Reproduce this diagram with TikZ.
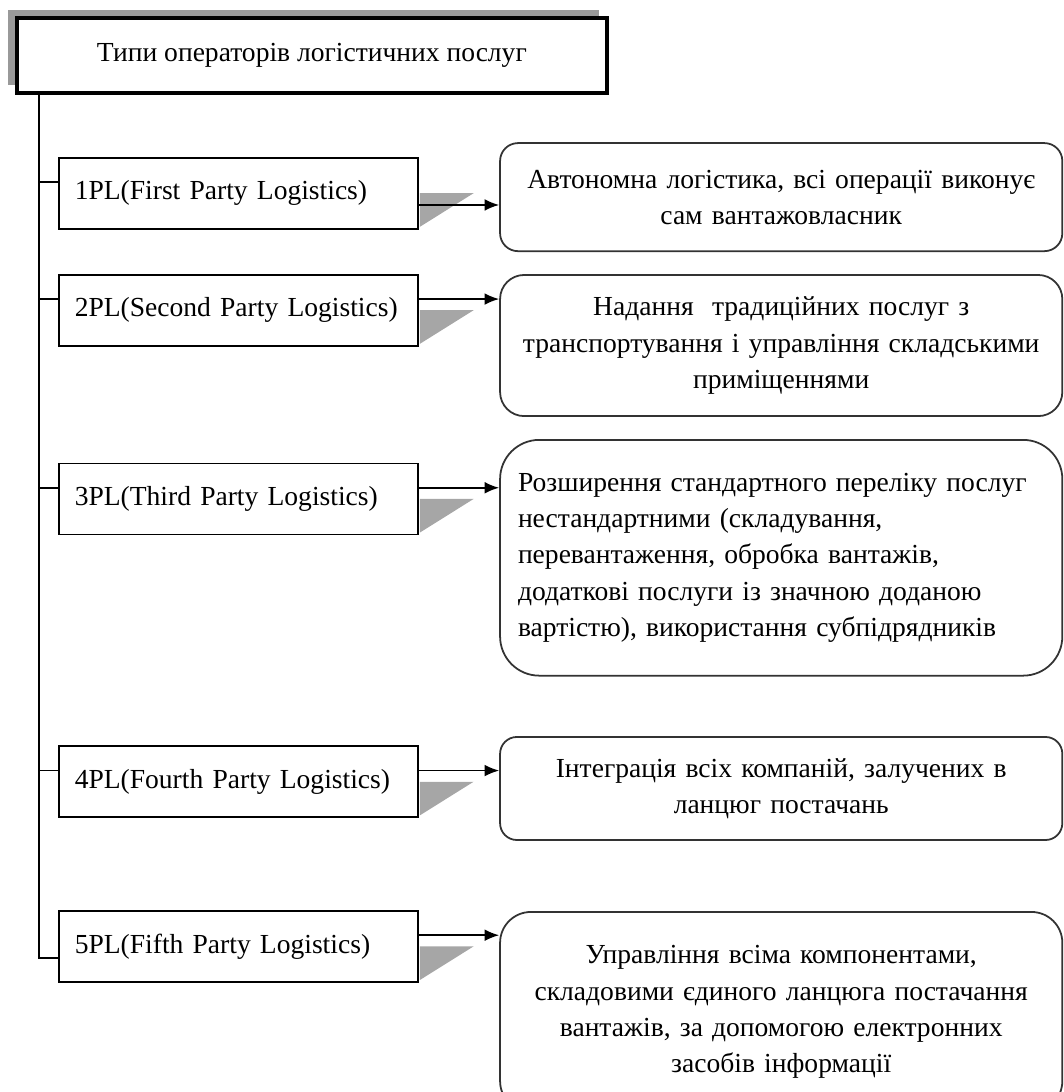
\documentclass[tikz,border=0pt]{standalone}
\usepackage{fontspec}
\setmainfont{Liberation Serif}
\usepackage{tikz}
\usetikzlibrary{shadows}
\usetikzlibrary{arrows.meta}

\begin{document}
\begin{tikzpicture}[
  font=\fontsize{14}{18.4}\selectfont,
  plbox/.style={draw, rectangle, line width=0.9pt, text width=5.85cm, inner xsep=0.28cm, minimum height=1.27cm, align=left},
  opbox/.style={draw=black!80, rectangle, line width=0.9pt, text width=9.6cm, inner xsep=0.22cm, align=center},
  tri/.style={fill=black!35},
  link/.style={line width=0.9pt}
]
\clip (0,0) rectangle (19,-19.5);
% header
\node at (5.57,-0.99) [draw, name=top, rectangle, minimum width=10.54cm, minimum height=1.34cm, line width=1.8pt, fill=white, drop shadow={shadow xshift=-0.15cm, shadow yshift=0.15cm, fill=black!40, opacity=1}]{Типи операторів логістичних послуг};
% operator types
\node at (4.26,-3.45) [plbox, name=pl1]{1PL(First Party Logistics)};
\node at (4.26,-5.54) [plbox, name=pl2]{2PL(Second Party Logistics)};
\node at (4.26,-8.91) [plbox, name=pl3]{3PL(Third Party Logistics)};
\node at (4.26,-13.96) [plbox, name=pl4]{4PL(Fourth Party Logistics)};
\node at (4.26,-16.90) [plbox, name=pl5]{5PL(Fifth Party Logistics)};
% descriptions
\node at (13.95,-3.52) [opbox, name=op1, minimum height=1.93cm, rounded corners=0.32cm]{Автономна логістика, всі операції виконує\\сам вантажовласник};
\node at (13.95,-6.17) [opbox, name=op2, minimum height=2.52cm, rounded corners=0.43cm]{Надання \ традиційних послуг з\\транспортування і управління складськими\\приміщеннями};
\node at (13.95,-9.96) [opbox, name=op3, minimum height=4.21cm, rounded corners=0.7cm, text width=9.4cm, inner xsep=0.32cm, align=left]{Розширення стандартного переліку послуг\\нестандартними (складування,\\перевантаження, обробка вантажів,\\додаткові послуги із значною доданою\\вартістю), використання субпідрядників};
\node at (13.95,-14.08) [opbox, name=op4, minimum height=1.84cm, rounded corners=0.3cm]{Інтеграція всіх компаній, залучених в\\ланцюг постачань};
\node at (13.95,-18.07) [opbox, name=op5, minimum height=3.57cm, rounded corners=0.55cm]{Управління всіма компонентами,\\складовими єдиного ланцюга постачання\\вантажів, за допомогою електронних\\засобів інформації};
% grey wedges
\foreach \n in {1,...,5}
  \fill[tri] ([xshift=0.45pt]pl\n.east) -- ++(0.96,0) -- ([xshift=0.45pt,yshift=0.05cm]pl\n.south east) -- cycle;
% trunk and ticks
\coordinate (trunk) at (0.69,0);
\draw[link] (top.south -| trunk) |- ([yshift=-0.21cm]pl5.west);
\foreach \n in {1,...,4}
  \draw[link] ([yshift=0.2cm]pl\n.west) coordinate (k\n) -- (k\n -| trunk);
% arrows
\foreach \n/\d in {1/-0.21,2/0.2,3/0.2,4/0.2,5/0.2}
  \draw[link, ->, >={Latex[length=0.26cm,width=0.21cm]}] ([yshift=\d cm]pl\n.east) coordinate (a\n) -- (a\n -| op\n.west);
\end{tikzpicture}
\end{document}
